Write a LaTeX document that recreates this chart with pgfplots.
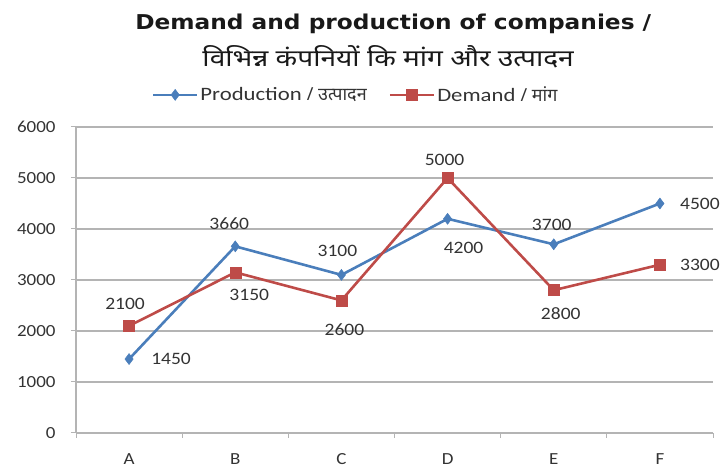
\documentclass[border=0pt]{standalone}
\usepackage{pgfplots}
\pgfplotsset{compat=1.18}
\usepackage{fontspec}
\setmainfont{Carlito}
\newfontfamily\tickfont{Carlito}[FakeStretch=1.12]
\newfontfamily\legfont{Carlito}[FakeStretch=1.2]
\newfontfamily\titlefont{DejaVu Sans}[FakeStretch=1.14]
\newfontfamily\devatitle{Noto Sans}[Script=Devanagari, FakeStretch=1.2]
\newfontfamily\devaleg{Noto Sans}[Script=Devanagari]
\definecolor{pblue}{HTML}{4A7EBB}
\definecolor{dred}{HTML}{BE4B48}
\definecolor{gridc}{HTML}{B4B4B4}
\pgfplotstableread{
x y lbl dx dy
0 1450 1450 42 0
1 3660 3660 -6 23
2 3100 3100 -4 24
3 4200 4200 16 -29
4 3700 3700 -2 19
5 4500 4500 40 0
}\prod
\pgfplotstableread{
x y lbl dx dy
0 2100 2100 -4 22
1 3150 3150 14 -23
2 2600 2600 3 -29
3 5000 5000 -3 18
4 2800 2800 7 -23
5 3300 3300 40 0
}\dem
\begin{document}
\begin{tikzpicture}[x=1bp,y=1bp]
\path[use as bounding box] (-76,-37) rectangle (649,433);
\begin{axis}[at={(0,0)}, anchor=south west, scale only axis,
  width=637bp, height=306bp,
  xmin=-0.5, xmax=5.5, ymin=0, ymax=6000,
  axis lines=left, axis line style={-, draw=gridc, line width=1.3pt},
  xtick={0,...,5}, xticklabels={A,B,C,D,E,F},
  major x tick style={draw=none},
  minor xtick={-0.5,0.5,...,5.5},
  minor x tick style={draw=gridc, line width=1pt},
  minor tick length=5bp,
  ytick={0,1000,...,6000},
  major y tick style={draw=gridc, line width=1pt},
  major tick length=5bp,
  tick align=outside,
  ymajorgrids, grid style={gridc, line width=1.2pt},
  every tick label/.style={font=\tickfont\fontsize{17}{17}\selectfont, text=black!80},
  /pgf/number format/assume math mode=true,
  yticklabel style={/pgf/number format/1000 sep={}, xshift=-12bp},
  xticklabel style={yshift=-12bp},
  scaled y ticks=false,
  clip=false,
  legend columns=2,
  legend style={at={(0.439,1.105)}, anchor=center, draw=none, fill=none,
    font=\legfont\fontsize{19}{19}\selectfont, text=black!80,
    /tikz/every even column/.append style={column sep=20bp}},
  legend image code/.code={\draw[mark repeat=2,mark phase=2,#1] plot coordinates {(0bp,0bp) (22bp,0bp) (44bp,0bp)};},
  nodes near coords,
  point meta=explicit symbolic,
  visualization depends on={\thisrow{dx}\as\dx},
  visualization depends on={\thisrow{dy}\as\dy},
  every node near coord/.style={anchor=center, xshift=\dx bp, yshift=\dy bp,
    font=\tickfont\fontsize{17.5}{17.5}\selectfont, text=black!80},
]
\addplot[pblue, line width=2.6pt, mark=diamond*, mark size=5.5bp,
  mark options={fill=pblue, line width=0.5pt}]
  table[x=x, y=y, meta=lbl] {\prod};
\addlegendentry{Production {\devaleg\fontsize{18}{18}\selectfont / उत्पादन}}
\addplot[dred, line width=2.6pt, mark=square*, mark size=5.5bp,
  mark options={fill=dred, line width=0.5pt}]
  table[x=x, y=y, meta=lbl] {\dem};
\addlegendentry{Demand {\devaleg\fontsize{18}{18}\selectfont / मांग}}
\node[font=\titlefont\bfseries\fontsize{20.5}{20.5}\selectfont, text=black!90]
  at (rel axis cs:0.498,1.337) {Demand and production of companies /};
\node[font=\devatitle\bfseries\fontsize{23.5}{23.5}\selectfont, text=black!90]
  at (rel axis cs:0.49,1.229) {विभिन्न कंपनियों कि मांग और उत्पादन};
\end{axis}
\end{tikzpicture}
\end{document}
